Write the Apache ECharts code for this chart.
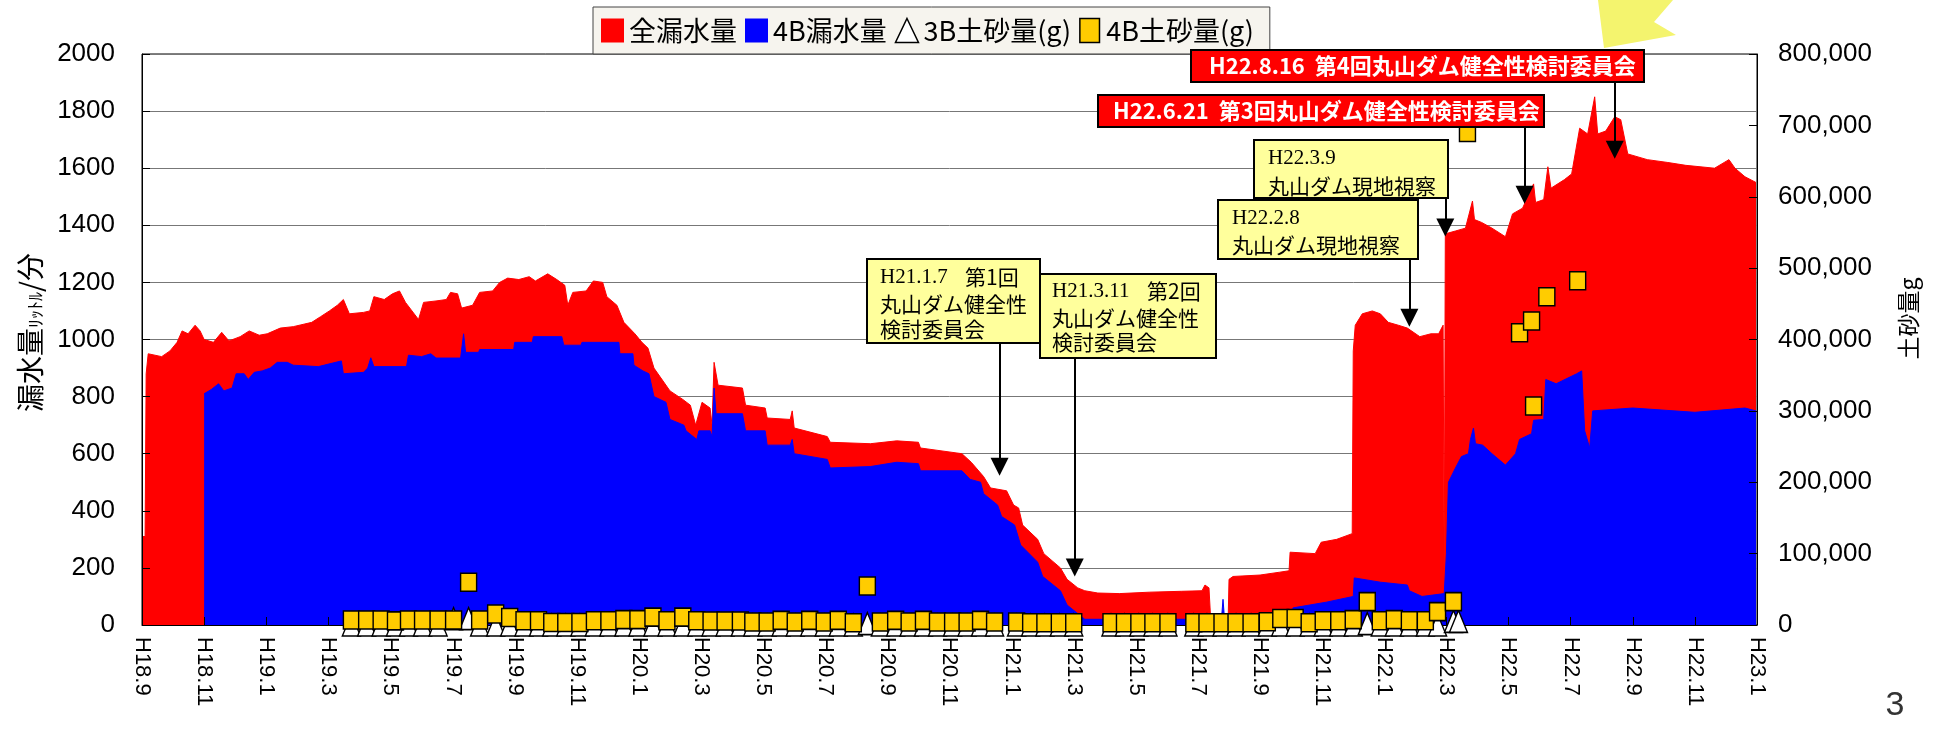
<!DOCTYPE html>
<html>
<head>
<meta charset="utf-8">
<title>漏水量・土砂量</title>
<script src="https://cdn.jsdelivr.net/npm/echarts@6/dist/echarts.min.js"></script>
<style>
  html, body { margin: 0; padding: 0; background: #fff; }
  #chart { width: 1936px; height: 735px; }
</style>
</head>
<body>
<div id="chart"></div>
<script>
// 横軸ラベル（2ヶ月ごと）
const xLabels = ['H18.9', 'H18.11', 'H19.1', 'H19.3', 'H19.5', 'H19.7', 'H19.9', 'H19.11',
  'H20.1', 'H20.3', 'H20.5', 'H20.7', 'H20.9', 'H20.11', 'H21.1', 'H21.3', 'H21.5', 'H21.7',
  'H21.9', 'H21.11', 'H22.1', 'H22.3', 'H22.5', 'H22.7', 'H22.9', 'H22.11', 'H23.1']

// 全漏水量
const totalDates = ['2006-09-01', '2006-09-04', '2006-09-05', '2006-09-07', '2006-09-20', '2006-09-28',
  '2006-10-05', '2006-10-10', '2006-10-16', '2006-10-23', '2006-10-28', '2006-11-01', '2006-11-10',
  '2006-11-18', '2006-11-25', '2006-12-06', '2006-12-15', '2006-12-25', '2007-01-02', '2007-01-15',
  '2007-01-28', '2007-02-14', '2007-02-22', '2007-03-02', '2007-03-10', '2007-03-16', '2007-03-22',
  '2007-04-05', '2007-04-11', '2007-04-15', '2007-04-25', '2007-05-03', '2007-05-10', '2007-05-16',
  '2007-05-29', '2007-06-03', '2007-06-15', '2007-06-25', '2007-06-29', '2007-07-06', '2007-07-10',
  '2007-07-21', '2007-07-28', '2007-08-10', '2007-08-17', '2007-08-25', '2007-09-05', '2007-09-15',
  '2007-09-21', '2007-10-03', '2007-10-12', '2007-10-20', '2007-10-23', '2007-10-28', '2007-11-10',
  '2007-11-17', '2007-11-26', '2007-11-30', '2007-12-10', '2007-12-17', '2007-12-28', '2008-01-04',
  '2008-01-10', '2008-01-16', '2008-01-22', '2008-02-01', '2008-02-13', '2008-02-20', '2008-02-25',
  '2008-03-02', '2008-03-10', '2008-03-12', '2008-03-14', '2008-03-18', '2008-04-11', '2008-04-14',
  '2008-05-03', '2008-05-05', '2008-05-28', '2008-05-30', '2008-06-01', '2008-07-03', '2008-07-06',
  '2008-08-15', '2008-09-10', '2008-10-01', '2008-10-03', '2008-11-13', '2008-11-22', '2008-12-04',
  '2008-12-11', '2008-12-27', '2009-01-03', '2009-01-08', '2009-01-12', '2009-01-27', '2009-02-02',
  '2009-02-17', '2009-02-23', '2009-03-05', '2009-03-12', '2009-03-25', '2009-04-15', '2009-05-15',
  '2009-06-15', '2009-07-05', '2009-07-08', '2009-07-12', '2009-07-14', '2009-07-31', '2009-08-01',
  '2009-08-05', '2009-09-01', '2009-09-20', '2009-09-29', '2009-09-30', '2009-10-25', '2009-10-31',
  '2009-11-15', '2009-11-30', '2009-12-01', '2009-12-03', '2009-12-10', '2009-12-20', '2009-12-28',
  '2010-01-05', '2010-01-15', '2010-01-24', '2010-02-05', '2010-02-15', '2010-02-22', '2010-02-26',
  '2010-02-27', '2010-02-28', '2010-03-10', '2010-03-20', '2010-03-27', '2010-03-29', '2010-04-05',
  '2010-04-15', '2010-04-28', '2010-05-05', '2010-05-15', '2010-05-26', '2010-05-28', '2010-06-05',
  '2010-06-09', '2010-06-12', '2010-06-25', '2010-07-02', '2010-07-10', '2010-07-18', '2010-07-25',
  '2010-07-28', '2010-08-05', '2010-08-14', '2010-08-20', '2010-08-27', '2010-09-15', '2010-10-05',
  '2010-10-23', '2010-11-20', '2010-12-04', '2010-12-10', '2010-12-20', '2010-12-31']
const totalLeak = [310, 310, 880, 950, 940, 960,
  990, 1030, 1020, 1050, 1030, 1000, 990,
  1025, 995, 1010, 1030, 1015, 1020, 1040,
  1045, 1060, 1080, 1100, 1120, 1140, 1090,
  1095, 1100, 1150, 1140, 1160, 1170, 1130,
  1070, 1130, 1135, 1140, 1165, 1160, 1110,
  1120, 1165, 1170, 1200, 1215, 1210, 1220,
  1205, 1230, 1210, 1190, 1120, 1165, 1170,
  1205, 1200, 1150, 1120, 1060, 1020, 990,
  970, 900, 870, 820, 790, 770, 700,
  780, 760, 700, 920, 840, 830, 770,
  760, 725, 720, 750, 690, 660, 640,
  635, 645, 640, 620, 600, 570, 520,
  480, 470, 420, 410, 350, 300, 250,
  200, 160, 130, 120, 112, 110, 115,
  118, 120, 140, 130, 0, 0, 160,
  170, 175, 185, 190, 255, 250, 290,
  300, 320, 960, 1050, 1090, 1100, 1090,
  1060, 1050, 1040, 1010, 1020, 1020, 1050,
  160, 1370, 1380, 1390, 1485, 1420, 1410,
  1390, 1360, 1440, 1460, 1545, 1480, 1490,
  1605, 1530, 1560, 1580, 1740, 1720, 1850,
  1720, 1730, 1780, 1770, 1650, 1630, 1620,
  1610, 1600, 1630, 1600, 1570, 1550]

// 4B漏水量
const b4Dates = ['2006-11-01', '2006-11-08', '2006-11-15', '2006-11-20', '2006-11-28', '2006-12-02',
  '2006-12-10', '2006-12-14', '2006-12-20', '2006-12-28', '2007-01-05', '2007-01-12', '2007-01-22',
  '2007-01-28', '2007-02-20', '2007-03-14', '2007-03-16', '2007-04-05', '2007-04-09', '2007-04-12',
  '2007-04-15', '2007-05-17', '2007-05-19', '2007-06-01', '2007-06-10', '2007-06-15', '2007-07-09',
  '2007-07-12', '2007-07-14', '2007-07-27', '2007-07-28', '2007-08-31', '2007-09-01', '2007-09-18',
  '2007-09-19', '2007-10-17', '2007-10-19', '2007-11-05', '2007-11-06', '2007-12-12', '2007-12-13',
  '2007-12-26', '2007-12-27', '2008-01-05', '2008-01-11', '2008-01-16', '2008-01-28', '2008-02-01',
  '2008-02-14', '2008-02-16', '2008-02-26', '2008-02-28', '2008-03-10', '2008-03-12', '2008-03-14',
  '2008-03-16', '2008-04-11', '2008-04-14', '2008-05-03', '2008-05-05', '2008-05-28', '2008-05-30',
  '2008-06-01', '2008-07-03', '2008-07-06', '2008-08-15', '2008-09-10', '2008-10-01', '2008-10-03',
  '2008-11-13', '2008-11-21', '2008-12-01', '2008-12-04', '2008-12-18', '2008-12-22', '2009-01-04',
  '2009-01-10', '2009-01-27', '2009-02-01', '2009-02-17', '2009-02-23', '2009-03-05', '2009-03-12',
  '2009-07-12', '2009-07-14', '2009-07-24', '2009-07-26', '2009-07-28', '2009-07-31', '2009-08-01',
  '2009-09-01', '2009-10-01', '2009-10-03', '2009-11-05', '2009-12-01', '2009-12-02', '2009-12-28',
  '2010-01-24', '2010-01-26', '2010-02-07', '2010-02-27', '2010-03-01', '2010-03-03', '2010-03-10',
  '2010-03-16', '2010-03-23', '2010-03-25', '2010-03-28', '2010-03-30', '2010-04-06', '2010-04-15',
  '2010-04-28', '2010-05-08', '2010-05-12', '2010-05-24', '2010-05-26', '2010-06-05', '2010-06-07',
  '2010-06-17', '2010-07-07', '2010-07-12', '2010-07-15', '2010-07-20', '2010-07-23', '2010-09-01',
  '2010-11-01', '2010-12-20', '2010-12-31']
const b4Leak = [810, 825, 845, 820, 830, 880,
  880, 860, 885, 890, 900, 920, 920,
  910, 905, 925, 880, 885, 900, 936,
  905, 905, 945, 940, 950, 935, 935,
  1020, 955, 955, 965, 965, 990, 990,
  1010, 1010, 980, 980, 990, 990, 950,
  950, 910, 890, 880, 800, 780, 720,
  700, 680, 650, 680, 680, 660, 830,
  740, 740, 680, 680, 630, 630, 650,
  600, 580, 550, 555, 570, 565, 540,
  540, 510, 500, 460, 420, 380, 350,
  280, 220, 170, 120, 70, 40, 20,
  20, 0, 0, 90, 0, 0, 20,
  30, 40, 60, 80, 100, 165, 150,
  140, 120, 100, 110, 250, 500, 550,
  590, 600, 650, 690, 635, 630, 600,
  560, 600, 650, 670, 717, 720, 860,
  845, 880, 890, 680, 620, 750, 760,
  745, 760, 750]

// 土砂量(g)
const sandDates = ['2007-03-24', '2007-04-08', '2007-04-22', '2007-05-06', '2007-05-19', '2007-06-02',
  '2007-06-17', '2007-07-02', '2007-07-17', '2007-07-28', '2007-08-13', '2007-08-27', '2007-09-10',
  '2007-09-24', '2007-10-07', '2007-10-21', '2007-11-04', '2007-11-18', '2007-12-02', '2007-12-17',
  '2007-12-31', '2008-01-15', '2008-01-29', '2008-02-13', '2008-02-26', '2008-03-11', '2008-03-25',
  '2008-04-09', '2008-04-21', '2008-05-05', '2008-05-19', '2008-06-02', '2008-06-16', '2008-06-30',
  '2008-07-14', '2008-07-29', '2008-08-12', '2008-08-25', '2008-09-09', '2008-09-22', '2008-10-06',
  '2008-10-20', '2008-11-04', '2008-11-18', '2008-12-01', '2008-12-15', '2009-01-06', '2009-01-20',
  '2009-02-03', '2009-02-16', '2009-03-01', '2009-04-07', '2009-04-20', '2009-05-04', '2009-05-18',
  '2009-06-02', '2009-06-27', '2009-07-10', '2009-07-25', '2009-08-08', '2009-08-23', '2009-09-08',
  '2009-09-21', '2009-10-05', '2009-10-19', '2009-11-02', '2009-11-17', '2009-12-01', '2009-12-15',
  '2009-12-28', '2010-01-11', '2010-01-26', '2010-02-10', '2010-02-21', '2010-03-08', '2010-03-22',
  '2010-05-12', '2010-05-24', '2010-05-26', '2010-06-08', '2010-07-08']
const sand4B = [7000, 7000, 7000, 5800, 7000, 7000,
  7000, 7000, 60000, 7000, 15400, 10400, 6000,
  6000, 3500, 3500, 3500, 6000, 6000, 7500,
  7500, 11000, 6000, 11000, 6000, 5500, 5500,
  5500, 4200, 4200, 6500, 4200, 6500, 4200,
  6500, 3100, 54600, 4200, 6500, 4200, 6500,
  4200, 4200, 4200, 6500, 4200, 4200, 3100,
  3100, 3100, 3100, 3100, 3100, 3100, 3100,
  3100, 3100, 3100, 3100, 3100, 3100, 4500,
  9000, 9000, 3100, 6000, 6000, 7500, 32700,
  6000, 7500, 6000, 6000, 18700, 32700, 690000,
  409500, 426000, 306800, 460000, 482400]

const sand3BDates = sandDates.slice(0, 75).concat(['2010-03-13'])
const sand3B = [0, 0, 0, 0, 0, 0,
  0, 9000, 9000, 0, 0, 0, 0,
  0, 0, 0, 0, 0, 0, 0,
  0, 0, 0, 0, 0, 0, 0,
  0, 0, 0, 0, 0, 0, 0,
  0, 0, 2000, 0, 0, 0, 0,
  0, 0, 0, 0, 0, 0, 0,
  0, 0, 0, 0, 0, 0, 0,
  0, 0, 0, 0, 0, 0, 0,
  0, 0, 0, 0, 0, 0, 2000,
  0, 0, 0, 0, 0, 5000, 5000]

// 矢印（吹き出しから指す位置）
const noteDates = ['2010-08-14', '2010-05-17', '2010-02-28', '2010-01-26', '2008-12-20', '2009-03-02']
const noteFrom = [1902, 1744, 1496, 1282, 988, 935]
const noteTo = [1665, 1507, 1392, 1076, 554, 201]

// 日付 -> H18.9からの月数
function monthIndex(s) {
  const [y, m, d] = s.split('-').map(Number)
  const days = new Date(y, m, 0).getDate()
  return (y - 2006) * 12 + (m - 9) + (d - 1) / days
}
const pairs = (dates, vals) => dates.map((d, i) => [monthIndex(d), vals[i]])

const JP = 'Noto Sans CJK JP'
const NUM = 'Liberation Sans'

const arrows = noteDates.map((d, i) => [
  { coord: [monthIndex(d), noteFrom[i]] },
  { coord: [monthIndex(d), noteTo[i]] }
])

function box(x, y, w, h, fill) {
  return { type: 'rect', z: 100, shape: { x, y, width: w, height: h },
    style: { fill, stroke: '#000', lineWidth: 2 } }
}
function txt(x, y, text, font, fill) {
  return { type: 'text', z: 101, x, y,
    style: { text, font, fill: fill || '#000', verticalAlign: 'middle', align: 'left' } }
}
const gothic = '21px "Noto Sans CJK JP"'
const serif = '21px "Liberation Serif"'
const redFont = 'bold 22px "Noto Sans CJK JP"'
const yellow = '#ffff9c'

const option = {
  animation: false,
  backgroundColor: '#fff',
  grid: { left: 142, right: 179, top: 54, bottom: 110, show: true, borderColor: '#000', borderWidth: 1,
    outerBoundsMode: 'none' },
  legend: {
    left: 593, top: 7,
    padding: [10, 16, 10, 8],
    itemWidth: 23, itemHeight: 24, itemGap: 8,
    backgroundColor: '#f6f4ee', borderColor: '#444', borderWidth: 1,
    textStyle: { fontSize: 27, fontFamily: JP, color: '#000' },
    selectedMode: false,
    data: [
      { name: '全漏水量', icon: 'rect', itemStyle: { color: '#ff0000' } },
      { name: '4B漏水量', icon: 'rect', itemStyle: { color: '#0000ff' } },
      { name: '3B土砂量(g)', icon: 'triangle', itemStyle: { color: '#fff', borderColor: '#000', borderWidth: 1.5 } },
      { name: '4B土砂量(g)', icon: 'path://M0,0h18v22h-18z', itemStyle: { color: '#ffcc00', borderColor: '#000', borderWidth: 1.5 } }
    ]
  },
  xAxis: {
    type: 'value', min: 0, max: 52, interval: 2, z: 5,
    axisLine: { lineStyle: { color: '#000', width: 1 } },
    axisTick: { inside: true, length: 8, lineStyle: { color: '#000' } },
    splitLine: { show: false },
    axisLabel: {
      rotate: -90, margin: 12, fontSize: 22, fontFamily: NUM, color: '#000',
      formatter: v => xLabels[Math.round(v / 2)]
    }
  },
  yAxis: [
    {
      type: 'value', min: 0, max: 2000, interval: 200, position: 'left',
      axisLine: { show: false }, axisTick: { show: false },
      axisLabel: { fontSize: 26, fontFamily: NUM, color: '#000', margin: 27, formatter: v => String(v) },
      splitLine: { lineStyle: { color: '#777', width: 1 } },
      name: '{a|漏水量}{b|ﾘｯﾄﾙ}{a|/分}', nameLocation: 'middle', nameGap: 98, nameRotate: 90,
      nameTextStyle: {
        color: '#000', fontFamily: JP, padding: [0, 0, 0, 14],
        rich: {
          a: { fontSize: 28, fontFamily: JP, color: '#000', verticalAlign: 'bottom', lineHeight: 32 },
          b: { fontSize: 18, fontFamily: JP, color: '#000', verticalAlign: 'bottom', lineHeight: 32 }
        }
      }
    },
    {
      type: 'value', min: 0, max: 800000, interval: 100000, position: 'right', z: 5,
      axisLine: { show: true, lineStyle: { color: '#000' } },
      axisTick: { show: true, inside: true, length: 8, lineStyle: { color: '#000' } },
      splitLine: { show: false },
      axisLabel: { fontSize: 26, fontFamily: NUM, color: '#000', margin: 21,
        formatter: v => v.toLocaleString('en-US') },
      name: '土砂量g', nameLocation: 'middle', nameGap: 140, nameRotate: 90,
      nameTextStyle: { fontSize: 23, fontFamily: JP, color: '#000', padding: [0, 0, 0, 42] }
    },
    {
      // 左軸の線と目盛（系列の上に描く）
      type: 'value', min: 0, max: 2000, interval: 200, position: 'left', z: 5,
      axisLine: { show: true, lineStyle: { color: '#000' } },
      axisTick: { show: true, inside: true, length: 8, lineStyle: { color: '#000' } },
      axisLabel: { show: false }, splitLine: { show: false }
    }
  ],
  series: [
    {
      name: '全漏水量', type: 'line', yAxisIndex: 0, z: 2,
      data: pairs(totalDates, totalLeak),
      symbol: 'none', lineStyle: { color: '#ff0000', width: 1 },
      itemStyle: { color: '#ff0000' },
      areaStyle: { color: '#ff0000', opacity: 1 }
    },
    {
      name: '4B漏水量', type: 'line', yAxisIndex: 0, z: 2,
      data: pairs(b4Dates, b4Leak),
      symbol: 'none', lineStyle: { color: '#0000ff', width: 1 },
      itemStyle: { color: '#0000ff' },
      areaStyle: { color: '#0000ff', opacity: 1 },
      markLine: {
        silent: true, symbol: ['none', 'triangle'], symbolSize: 18, z: 8,
        label: { show: false },
        lineStyle: { color: '#000', width: 2, type: 'solid' },
        itemStyle: { color: '#000' },
        data: arrows
      }
    },
    {
      name: '3B土砂量(g)', type: 'scatter', yAxisIndex: 1, z: 6, clip: false,
      data: pairs(sand3BDates, sand3B),
      symbol: 'triangle', symbolSize: [18, 22],
      itemStyle: { color: '#fff', borderColor: '#000', borderWidth: 1.5, opacity: 1 }
    },
    {
      name: '4B土砂量(g)', type: 'scatter', yAxisIndex: 1, z: 7, clip: false,
      data: pairs(sandDates, sand4B),
      symbol: 'rect', symbolSize: [16, 18],
      itemStyle: { color: '#ffcc00', borderColor: '#000', borderWidth: 1.5, opacity: 1 }
    }
  ],
  graphic: [
    // 右上の飾り
    { type: 'polygon', z: 50, shape: { points: [[1598, 0], [1673, 0], [1654, 22], [1676, 35], [1604, 48]] },
      style: { fill: '#f4f46e' } },
    box(1191, 50, 453, 32, '#ff0000'),
    txt(1209, 66, 'H22.8.16  第4回丸山ダム健全性検討委員会', redFont, '#fff'),
    box(1098, 95, 446, 32, '#ff0000'),
    txt(1113, 111, 'H22.6.21  第3回丸山ダム健全性検討委員会', redFont, '#fff'),
    box(1254, 140, 194, 58, yellow),
    txt(1268, 158, 'H22.3.9', serif),
    txt(1268, 186, '丸山ダム現地視察', gothic),
    box(1218, 200, 200, 59, yellow),
    txt(1232, 218, 'H22.2.8', serif),
    txt(1232, 245, '丸山ダム現地視察', gothic),
    box(867, 259, 173, 84, yellow),
    txt(880, 277, 'H21.1.7', serif),
    txt(965, 277, '第1回', gothic),
    txt(880, 304, '丸山ダム健全性', gothic),
    txt(880, 329, '検討委員会', gothic),
    box(1040, 274, 176, 84, yellow),
    txt(1052, 291, 'H21.3.11', serif),
    txt(1147, 291, '第2回', gothic),
    txt(1052, 318, '丸山ダム健全性', gothic),
    txt(1052, 342, '検討委員会', gothic),
    // ページ番号
    { type: 'text', z: 101, x: 1895, y: 706,
      style: { text: '3', font: '34px "Liberation Sans"', fill: '#333', align: 'center', verticalAlign: 'middle' } }
  ]
}

const myChart = echarts.init(document.getElementById('chart'))
myChart.setOption(option)
</script>
</body>
</html>
